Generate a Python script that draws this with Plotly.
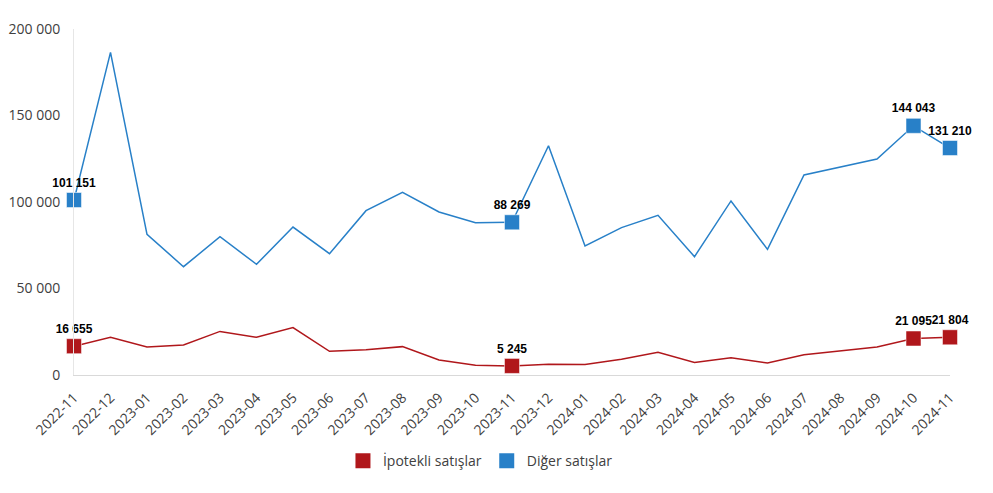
import plotly.graph_objects as go

months = [
    "2022-11", "2022-12", "2023-01", "2023-02", "2023-03", "2023-04", "2023-05",
    "2023-06", "2023-07", "2023-08", "2023-09", "2023-10", "2023-11", "2023-12",
    "2024-01", "2024-02", "2024-03", "2024-04", "2024-05", "2024-06", "2024-07",
    "2024-08", "2024-09", "2024-10", "2024-11",
]
ipotekli = [
    16655, 21800, 16200, 17300, 25200, 21800, 27400, 13700, 14600, 16400,
    8700, 5600, 5245, 6200, 6100, 9100, 13100, 7300, 10000, 6900,
    11700, 14000, 16200, 21095, 21804,
]
diger = [
    101151, 186500, 81300, 62600, 79900, 64000, 85500, 70100, 95000, 105600,
    94200, 88000, 88269, 132500, 74600, 85200, 92300, 68400, 100600, 72600,
    115600, 120400, 124800, 144043, 131210,
]
highlight = [0, 12, 23, 24]
y_ticks = [0, 50000, 100000, 150000, 200000]

RED = "#B0171B"
BLUE = "#2880C8"


def fmt(v):
    return f"{v:,}".replace(",", " ")


fig = go.Figure()

for name, vals, color in [("İpotekli satışlar", ipotekli, RED), ("Diğer satışlar", diger, BLUE)]:
    fig.add_trace(go.Scatter(
        x=months, y=vals, mode="lines", line=dict(color=color, width=1.5),
        showlegend=False, hoverinfo="skip", cliponaxis=False,
    ))
    fig.add_trace(go.Scatter(
        x=[months[i] for i in highlight],
        y=[vals[i] for i in highlight],
        mode="markers+text",
        marker=dict(symbol="square", size=15, color=color,
                    line=dict(color="rgba(255,255,255,0.5)", width=1)),
        text=[fmt(vals[i]) for i in highlight],
        textposition="top center",
        textfont=dict(family="Liberation Sans", size=12, color="#000000", weight="bold"),
        showlegend=False, cliponaxis=False,
    ))
    # legend entry with a square swatch
    fig.add_trace(go.Scatter(
        x=[None], y=[None], mode="markers", name=name,
        marker=dict(symbol="square", size=15, color=color),
    ))

# page body has an 8px margin, so the figure is a bit smaller than the window
fig.update_layout(
    width=985, height=485,
    margin=dict(l=66, r=43, t=21, b=118),
    plot_bgcolor="white", paper_bgcolor="white",
    separators=", ",
    font=dict(family="Open Sans", size=13, color="#404040"),
    legend=dict(orientation="h", x=0.464, xanchor="center", y=-0.249, yanchor="middle",
                font=dict(size=14, color="#404040"), itemwidth=30),
    showlegend=True,
)
fig.update_xaxes(
    type="category", range=[0, len(months) - 1], automargin=False,
    tickangle=-45, showgrid=False, showline=True, linecolor="#D9D9D9",
    ticks="", ticklabelstandoff=8, tickfont=dict(size=14, color="#404040"),
)
fig.update_yaxes(
    range=[0, 200000], tickvals=y_ticks, tickformat=",d", automargin=False,
    showgrid=False, showline=True, linecolor="#E6E6E6", zeroline=False,
    ticks="", ticklabelstandoff=10, tickfont=dict(size=14, color="#404040"),
)

fig.write_html("out.html")
